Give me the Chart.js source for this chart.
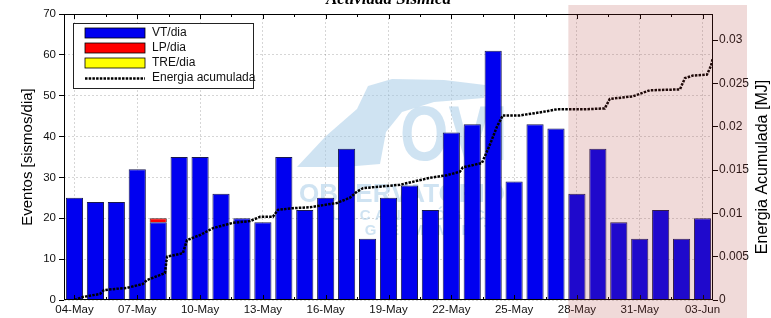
<!DOCTYPE html>
<html>
<head>
<meta charset="utf-8">
<script src="https://cdn.jsdelivr.net/npm/chart.js@4.4.1/dist/chart.umd.min.js"></script>
<style>
html, body { margin: 0; padding: 0; background: #fff; }
#wrap { width: 771px; height: 318px; }
</style>
</head>
<body>
<div id="wrap"><canvas id="c" width="771" height="318"></canvas></div>
<script>
const days = ['04-May', '05-May', '06-May', '07-May', '08-May', '09-May', '10-May', '11-May',
    '12-May', '13-May', '14-May', '15-May', '16-May', '17-May', '18-May', '19-May', '20-May',
    '21-May', '22-May', '23-May', '24-May', '25-May', '26-May', '27-May', '28-May', '29-May',
    '30-May', '31-May', '01-Jun', '02-Jun', '03-Jun'];

const vtPerDay = [25, 24, 24, 32, 19, 35, 35, 26, 20, 19, 35, 22, 25, 37, 15, 25,
    28, 22, 41, 43, 61, 29, 43, 42, 26, 37, 19, 15, 22, 15, 20];
const lpPerDay = [0, 0, 0, 0, 1, 0, 0, 0, 0, 0, 0, 0, 0, 0, 0, 0,
    0, 0, 0, 0, 0, 0, 0, 0, 0, 0, 0, 0, 0, 0, 0];
const trePerDay = [0, 0, 0, 0, 0, 0, 0, 0, 0, 0, 0, 0, 0, 0, 0, 0,
    0, 0, 0, 0, 0, 0, 0, 0, 0, 0, 0, 0, 0, 0, 0];

// cumulative energy, x = day index (0 = 04-May)
const energyDay = [0, 0.41, 1.22, 1.41, 2.51, 3.27, 3.46, 4.32, 4.42, 5.18, 5.37, 6.0, 6.62,
    7.57, 8.38, 8.86, 9.48, 9.72, 10.44, 11.25, 12.54, 13.16, 13.49, 13.78, 15.55, 16.98,
    17.79, 18.41, 18.55, 19.46, 19.84, 20.18, 20.46, 21.28, 22.37, 23.04, 24.28, 25.33,
    25.57, 26.67, 27.48, 28.92, 29.16, 29.54, 30.21, 30.4, 30.49];
const energyMJ = [0, 0.00035, 0.0007, 0.00115, 0.0014, 0.00185, 0.0023, 0.0031, 0.005, 0.0054,
    0.0069, 0.0075, 0.0083, 0.0089, 0.0091, 0.0096, 0.0096, 0.0104, 0.0106, 0.0107, 0.0112,
    0.0118, 0.0125, 0.0129, 0.0133, 0.0141, 0.0144, 0.0148, 0.0153, 0.0158, 0.0179, 0.02,
    0.0213, 0.0213, 0.0217, 0.022, 0.022, 0.0221, 0.0232, 0.0235, 0.0242, 0.0243, 0.0256,
    0.0259, 0.026, 0.027, 0.0279];

const shadeFrom = days.indexOf('28-May');
const FONT = '"Liberation Sans", Arial, sans-serif';
const gridColor = 'rgba(0,0,0,0.16)';
const markColor = 'rgba(160,200,230,0.5)';

const perDay = arr => arr.map((v, i) => ({ x: i, y: v }));

const decor = {
    id: 'decor',
    beforeDatasetsDraw(chart) {
        // faint OVI watermark behind the bars
        const ctx = chart.ctx, ca = chart.chartArea;
        const L = ca.left, T = ca.top;
        ctx.save();
        ctx.fillStyle = markColor;
        ctx.beginPath();
        ctx.moveTo(L + 233, T + 153);
        ctx.lineTo(L + 262, T + 122);
        ctx.lineTo(L + 293, T + 95);
        ctx.lineTo(L + 304, T + 72);
        ctx.lineTo(L + 328, T + 65);
        ctx.lineTo(L + 380, T + 66);
        ctx.lineTo(L + 421, T + 71);
        ctx.lineTo(L + 420, T + 84);
        ctx.lineTo(L + 370, T + 88);
        ctx.lineTo(L + 338, T + 98);
        ctx.lineTo(L + 322, T + 118);
        ctx.lineTo(L + 316, T + 150);
        ctx.lineTo(L + 280, T + 153);
        ctx.closePath();
        ctx.fill();
        ctx.translate(L + 336, T + 146);
        ctx.scale(0.8, 1);
        ctx.font = 'bold 78px ' + FONT;
        ctx.fillText('OVI', 0, 0);
        ctx.restore();
        ctx.save();
        ctx.fillStyle = markColor;
        ctx.textAlign = 'center';
        ctx.font = 'bold 26px ' + FONT;
        ctx.fillText('OBSERVATORIO', L + 338, T + 188);
        ctx.font = 'bold 15px ' + FONT;
        ctx.fillText('V U L C A N O L Ó G I C O', L + 345, T + 206);
        ctx.fillText('I   N   G   E   M   M   E   T', L + 345, T + 221);
        ctx.restore();
    },
    afterDraw(chart) {
        const ctx = chart.ctx, ca = chart.chartArea;
        const xs = chart.scales.x;
        ctx.save();
        // axes box
        ctx.strokeStyle = '#000';
        ctx.lineWidth = 1;
        ctx.strokeRect(ca.left + 0.5, ca.top + 0.5, ca.width - 1, ca.height - 1);
        // inward x ticks every 1.5 days
        for (let v = 0; v <= days.length - 1; v += 1.5) {
            const px = Math.round(xs.getPixelForValue(v)) + 0.5;
            const len = v % 3 === 0 ? 5 : 3;
            ctx.beginPath();
            ctx.moveTo(px, ca.top); ctx.lineTo(px, ca.top + len);
            ctx.moveTo(px, ca.bottom); ctx.lineTo(px, ca.bottom - len);
            ctx.stroke();
        }
        // title (cut off at the top edge)
        ctx.fillStyle = '#000';
        ctx.font = 'italic bold 17px "Liberation Serif", serif';
        ctx.textAlign = 'center';
        ctx.textBaseline = 'alphabetic';
        ctx.fillText('Actividad Sísmica', (ca.left + ca.right) / 2, 4);
        // axis titles
        ctx.font = '15px ' + FONT;
        ctx.textBaseline = 'middle';
        ctx.save();
        ctx.translate(28, (ca.top + ca.bottom) / 2);
        ctx.rotate(-Math.PI / 2);
        ctx.fillText('Eventos [sismos/dia]', 0, 0);
        ctx.restore();
        ctx.font = '16px ' + FONT;
        ctx.save();
        ctx.translate(763, 167);
        ctx.rotate(-Math.PI / 2);
        ctx.fillText('Energia Acumulada [MJ]', 0, 0);
        ctx.restore();
        // legend
        const bx = ca.left + 9, by = ca.top + 9;
        ctx.fillStyle = '#fff';
        ctx.fillRect(bx, by, 180, 65);
        ctx.strokeStyle = '#222';
        ctx.strokeRect(bx + 0.5, by + 0.5, 180, 65);
        chart.data.datasets.forEach((d, i) => {
            const cy = by + 10 + 15 * i;
            if (d.type === 'line') {
                ctx.strokeStyle = '#000';
                ctx.lineWidth = 2.5;
                ctx.setLineDash(d.borderDash);
                ctx.beginPath();
                ctx.moveTo(bx + 12, cy + 0.5);
                ctx.lineTo(bx + 72, cy + 0.5);
                ctx.stroke();
                ctx.setLineDash([]);
            } else {
                ctx.fillStyle = d.backgroundColor;
                ctx.fillRect(bx + 12, cy - 5, 60, 10);
                ctx.strokeStyle = '#000';
                ctx.lineWidth = 0.8;
                ctx.strokeRect(bx + 12, cy - 5, 60, 10);
            }
            ctx.fillStyle = '#111';
            ctx.font = '12px ' + FONT;
            ctx.textAlign = 'left';
            ctx.fillText(d.label, bx + 79, cy);
        });
        // shaded period from 28-May on
        const bar = chart.getDatasetMeta(0).data[shadeFrom];
        const sx = bar.x - bar.width / 2;
        ctx.fillStyle = 'rgba(170,50,45,0.18)';
        ctx.fillRect(sx, ca.top - 9, ca.right + 34 - sx, chart.height - ca.top + 9);
        ctx.restore();
    }
};

const ctx = document.getElementById('c').getContext('2d');
const barBorder = c => (c.raw && c.raw.y ? 1 : 0);
const barOpts = { stack: 's', order: 1, grouped: false, barPercentage: 0.82, categoryPercentage: 1, borderWidth: barBorder };

new Chart(ctx, {
    type: 'bar',
    plugins: [decor],
    data: {
        datasets: [
            Object.assign({ label: 'VT/dia', data: perDay(vtPerDay), backgroundColor: 'rgb(0,0,240)', borderColor: 'rgba(0,0,60,0.9)' }, barOpts),
            Object.assign({ label: 'LP/dia', data: perDay(lpPerDay), backgroundColor: '#ff0000', borderColor: 'rgba(60,0,0,0.9)' }, barOpts),
            Object.assign({ label: 'TRE/dia', data: perDay(trePerDay), backgroundColor: '#ffff00', borderColor: '#333' }, barOpts),
            {
                type: 'line', label: 'Energia acumulada',
                data: energyDay.map((d, i) => ({ x: d, y: energyMJ[i] })),
                yAxisID: 'y2',
                borderColor: '#000', borderWidth: 2.5, borderDash: [2.5, 1.2],
                pointRadius: 0, tension: 0, order: 0,
            },
        ],
    },
    options: {
        responsive: false,
        animation: false,
        devicePixelRatio: 1,
        layout: { padding: { top: 14, left: 0, right: 0, bottom: 0 } },
        plugins: { legend: { display: false }, tooltip: { enabled: false } },
        scales: {
            x: {
                type: 'linear',
                stacked: true,
                offset: false,
                min: -0.5,
                max: days.length - 0.5,
                grid: { offset: false, drawTicks: false, color: gridColor },
                border: { display: false, dash: [2, 2] },
                ticks: {
                    stepSize: 3, includeBounds: false, autoSkip: false, maxRotation: 0,
                    padding: 3, color: '#111',
                    font: { family: FONT, size: 11.5 },
                    callback: v => days[v] || '',
                },
                afterFit: s => { s.height = 18; },
            },
            y: {
                stacked: true, min: 0, max: 70,
                grid: { color: gridColor, tickColor: '#000', tickLength: 5 },
                border: { display: false, dash: [2, 2] },
                ticks: { stepSize: 10, padding: 3, color: '#111', font: { family: FONT, size: 11.5 } },
                afterFit: s => { s.width = 64; },
            },
            y2: {
                position: 'right', min: 0, max: 0.033,
                grid: { drawOnChartArea: false, tickColor: '#000', tickLength: 5 },
                border: { display: false },
                ticks: {
                    stepSize: 0.005, includeBounds: false, padding: 1, color: '#111',
                    font: { family: FONT, size: 12 },
                    callback: v => String(+v.toFixed(3)),
                },
                afterFit: s => { s.width = 58; },
            },
        },
    },
});
</script>
</body>
</html>
